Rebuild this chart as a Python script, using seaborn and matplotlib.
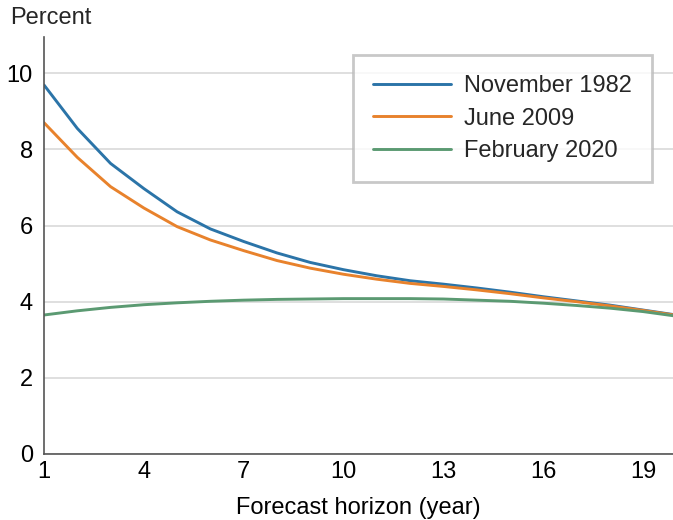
import numpy as np
import pandas as pd
import matplotlib
matplotlib.use("Agg")
import matplotlib.pyplot as plt
import seaborn as sns

# ── Data
horizon = list(range(1, 21))
nov_1982 = [9.69, 8.55, 7.63, 6.97, 6.36, 5.91, 5.58, 5.28, 5.03, 4.84,
            4.68, 4.55, 4.46, 4.36, 4.25, 4.13, 4.02, 3.91, 3.78, 3.65]
jun_2009 = [8.70, 7.79, 7.02, 6.46, 5.97, 5.62, 5.34, 5.08, 4.88, 4.72,
            4.59, 4.48, 4.40, 4.31, 4.21, 4.10, 4.00, 3.89, 3.77, 3.64]
feb_2020 = [3.65, 3.76, 3.85, 3.92, 3.97, 4.01, 4.04, 4.06, 4.07, 4.08,
            4.08, 4.08, 4.07, 4.04, 4.01, 3.96, 3.90, 3.83, 3.74, 3.62]
series_names = ["November 1982", "June 2009", "February 2020"]
colors = ["#2b74a8", "#e8822c", "#5b9a72"]
x_ticks = [1, 4, 7, 10, 13, 16, 19]
y_ticks = [0, 2, 4, 6, 8, 10]

df = pd.DataFrame({
    "horizon": horizon * 3,
    "value": nov_1982 + jun_2009 + feb_2020,
    "series": [s for s in series_names for _ in horizon],
})

# ── Style
sns.set_theme(style="white")
plt.rcParams["font.family"] = ["Liberation Sans", "DejaVu Sans"]
FS = 17

fig = plt.figure(figsize=(6.73, 5.2), dpi=100)
ax = fig.add_axes([44 / 673, 66 / 520, 629 / 673, 417 / 520])

sns.lineplot(data=df, x="horizon", y="value", hue="series",
             hue_order=series_names, palette=colors, linewidth=2.1, ax=ax)

ax.set_xlim(1, 19.9)
ax.set_ylim(0, 10.95)
ax.set_xticks(x_ticks)
ax.set_yticks(y_ticks)
ax.yaxis.grid(True, color="#d9d9d9", linewidth=1.2)
ax.set_axisbelow(True)

for side in ["top", "right"]:
    ax.spines[side].set_visible(False)
for side in ["left", "bottom"]:
    ax.spines[side].set_color("#555555")
    ax.spines[side].set_linewidth(1.2)

ax.tick_params(axis="x", direction="in", length=9, width=1, color="#555555",
               labelsize=FS, pad=5, labelcolor="black")
ax.tick_params(axis="y", length=0, labelsize=FS, pad=8, labelcolor="black")

ax.set_xlabel("Forecast horizon (year)", fontsize=FS, labelpad=10, color="black")
ax.set_ylabel("")
fig.text(10 / 673, 1 - 18 / 520, "Percent", fontsize=FS, va="center", ha="left")

leg = ax.legend(loc="upper right", bbox_to_anchor=(0.966, 0.957),
                borderaxespad=0, fontsize=FS, frameon=True, fancybox=False,
                handlelength=3.3, handletextpad=0.55, labelspacing=0.45,
                borderpad=0.85, title=None)
leg.get_frame().set_edgecolor("#bbbbbb")
leg.get_frame().set_linewidth(2)
for line in leg.get_lines():
    line.set_linewidth(2.1)

fig.savefig("out.png", dpi=100)
